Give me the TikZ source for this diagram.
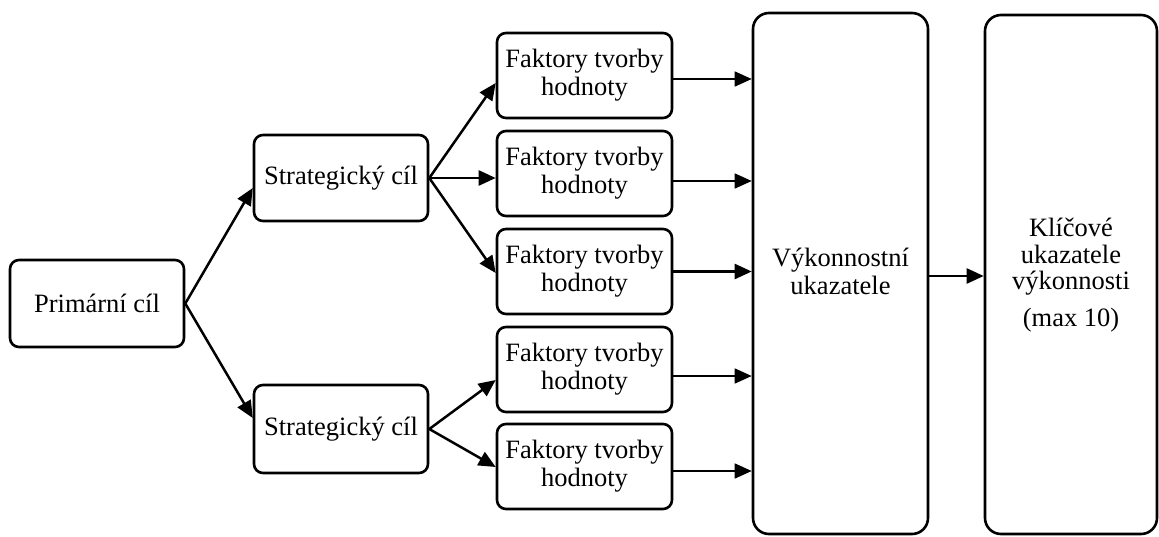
\documentclass[tikz,border=0pt]{standalone}
\usepackage{fontspec}
\setmainfont{Liberation Serif}
\usetikzlibrary{arrows.meta,calc}
\tikzset{
  box/.style={draw, line width=2.6pt, rounded corners=9pt, inner sep=0pt, align=center,
    font=\fontsize{26.5}{28}\selectfont},
  bigbox/.style={box, rounded corners=16pt},
  arr/.style={line width=2.5pt, -{Triangle[length=17pt,width=15pt]}},
  thinarr/.style={line width=1.6pt, -{Triangle[length=17pt,width=15pt]}},
}
\begin{document}
\begin{tikzpicture}[x=1pt,y=-1pt]
\useasboundingbox (0,0) rectangle (1159,536);
\node[box, minimum width=174pt, minimum height=87pt] (p) at (97,303.5) {Primární cíl};
\node[box, minimum width=174pt, minimum height=86pt] (s1) at (341,178) {Strategický cíl};
\node[box, minimum width=174pt, minimum height=88pt] (s2) at (341,429) {Strategický cíl};
\node[box, minimum width=175pt, minimum height=85pt] (f1) at (584.5,75.5) {Faktory tvorby\\hodnoty};
\node[box, minimum width=175pt, minimum height=85pt] (f2) at (584.5,173.5) {Faktory tvorby\\hodnoty};
\node[box, minimum width=175pt, minimum height=85pt] (f3) at (584.5,271.5) {Faktory tvorby\\hodnoty};
\node[box, minimum width=175pt, minimum height=85pt] (f4) at (584.5,369.5) {Faktory tvorby\\hodnoty};
\node[box, minimum width=175pt, minimum height=85pt] (f5) at (584.5,466.5) {Faktory tvorby\\hodnoty};
\node[bigbox, minimum width=175pt, minimum height=521pt] (v) at (840.5,273.5) {};
\node (vt) at (840.5,271) [font=\fontsize{26.5}{28}\selectfont, align=center, inner sep=0pt] {Výkonnostní\\ukazatele};
\node[bigbox, minimum width=172pt, minimum height=519pt] (k) at (1071,274.5) {};
\node (kt) at (1071,275) [font=\fontsize{26.5}{26.5}\selectfont, align=center, inner sep=0pt] {Klíčové\\ukazatele\\výkonnosti\\[10pt](max 10)};
% Primary to strategic
\draw[arr] (p.east) -- ([yshift=-10pt]s1.west);
\draw[arr] (p.east) -- ([yshift=11pt]s2.west);
% strategic to factors
\draw[arr] (s1.east) -- ([yshift=-7.5pt]f1.west);
\draw[arr] (s1.east) -- ([yshift=-4.5pt]f2.west);
\draw[arr] (s1.east) -- ([yshift=-1.5pt]f3.west);
\draw[arr] (s2.east) -- ([yshift=-10.5pt]f4.west);
\draw[arr] (s2.east) -- ([yshift=-0.5pt]f5.west);
% factors to performance indicators
\draw[thinarr] ([yshift=-3.5pt]f1.east) -- ([yshift=-3.5pt]f1.east -| v.west);
\draw[thinarr] ([yshift=-7.5pt]f2.east) -- ([yshift=-7.5pt]f2.east -| v.west);
\draw[arr] ([yshift=0pt]f3.east) -- ([yshift=0pt]f3.east -| v.west);
\draw[thinarr] ([yshift=-6.5pt]f4.east) -- ([yshift=-6.5pt]f4.east -| v.west);
\draw[thinarr] ([yshift=-4.5pt]f5.east) -- ([yshift=-4.5pt]f5.east -| v.west);
% to KPI
\draw[arr] ([yshift=-2.5pt]v.east) -- ([yshift=-2.5pt]v.east -| k.west);
\end{tikzpicture}
\end{document}
